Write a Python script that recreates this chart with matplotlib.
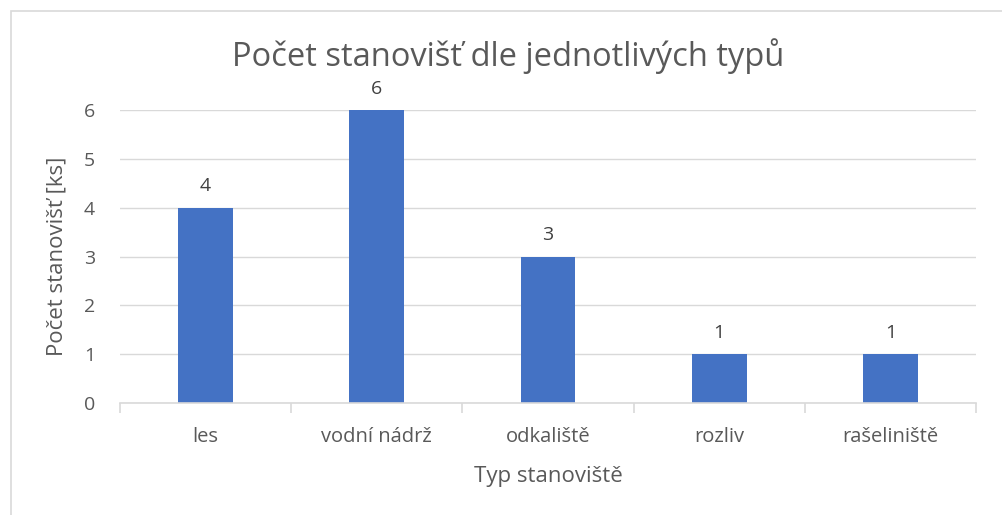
import matplotlib.pyplot as plt
from matplotlib.patches import Rectangle

categories = ['les', 'vodní nádrž', 'odkaliště', 'rozliv', 'rašeliniště']
counts = [4, 6, 3, 1, 1]

text_color = '#595959'
grid_color = '#D9D9D9'
bar_color = '#4472C4'

plt.rcParams['font.family'] = ['Open Sans', 'DejaVu Sans']

fig = plt.figure(figsize=(10.03, 5.15), dpi=100)
fig.patches.append(Rectangle((11 / 1003, -0.01), 1.0, 1 - 11 / 515 + 0.01,
                             transform=fig.transFigure, fill=False,
                             edgecolor=grid_color, linewidth=1.2))

ax = fig.add_axes([120 / 1003, 1 - 403 / 515, (976 - 120) / 1003, (403 - 110) / 515])
x = range(len(categories))
bars = ax.bar(x, counts, width=0.32, color=bar_color, zorder=3)
for xi, v in zip(x, counts):
    ax.annotate(str(v), (xi, v), xytext=(0, 9), textcoords='offset points',
                ha='center', va='bottom', fontsize=14, color='#404040')

ax.set_xlim(-0.5, len(categories) - 0.5)
ax.set_ylim(0, 6)
ax.set_yticks(range(7))
ax.set_xticks(list(x))
ax.set_xticklabels(categories)
ax.set_xticks([i - 0.5 for i in range(len(categories) + 1)], minor=True)
ax.tick_params(axis='x', which='major', length=0, pad=17, labelsize=14.5, labelcolor=text_color)
ax.tick_params(axis='x', which='minor', length=7, color=grid_color, width=1.2)
ax.tick_params(axis='y', length=0, pad=18, labelsize=14, labelcolor=text_color)
ax.grid(axis='y', color=grid_color, linewidth=1, zorder=0)
for s in ['top', 'right', 'left']:
    ax.spines[s].set_visible(False)
ax.spines['bottom'].set_color(grid_color)
ax.spines['bottom'].set_linewidth(1.2)
ax.spines['bottom'].set_zorder(4)

ax.set_xlabel('Typ stanoviště', fontsize=16, color=text_color, labelpad=14)
ax.set_ylabel('Počet stanovišť [ks]', fontsize=16, color=text_color, labelpad=12)
fig.text(508 / 1003, 1 - 56 / 515, 'Počet stanovišť dle jednotlivých typů',
         ha='center', va='center', fontsize=23.5, color=text_color)

fig.savefig('out.png', dpi=100)
